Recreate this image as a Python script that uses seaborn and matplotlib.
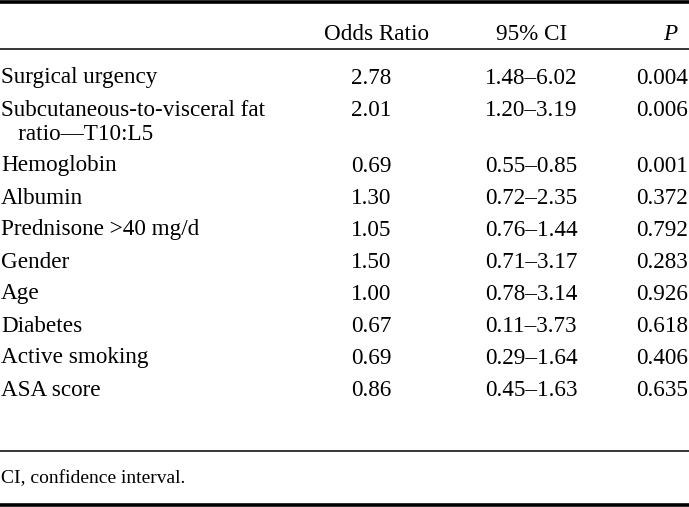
import matplotlib
matplotlib.use("Agg")
import matplotlib.pyplot as plt
import seaborn as sns

# table content
variables = ["Surgical urgency",
             "Subcutaneous-to-visceral fat\n   ratio\u2014T10:L5",
             "Hemoglobin", "Albumin", "Prednisone >40 mg/d", "Gender",
             "Age", "Diabetes", "Active smoking", "ASA score"]
odds_ratio = ["2.78", "2.01", "0.69", "1.30", "1.05", "1.50", "1.00", "0.67", "0.69", "0.86"]
ci_95 = ["1.48\u20136.02", "1.20\u20133.19", "0.55\u20130.85", "0.72\u20132.35", "0.76\u20131.44",
         "0.71\u20133.17", "0.78\u20133.14", "0.11\u20133.73", "0.29\u20131.64", "0.45\u20131.63"]
p_values = ["0.004", "0.006", "0.001", "0.372", "0.792", "0.283", "0.926", "0.618", "0.406", "0.635"]
headers = ["Odds Ratio", "95% CI", "P"]
footnote = "CI, confidence interval."

sns.set_theme(style="white")
plt.rcParams["font.family"] = ["Liberation Serif", "DejaVu Serif"]
plt.rcParams["text.color"] = "black"

W, H = 689, 507
fig = plt.figure(figsize=(W / 100, H / 100), dpi=100)
ax = fig.add_axes([0, 0, 1, 1])
ax.set_xlim(0, W)
ax.set_ylim(H, 0)
ax.axis("off")

fs = 16.7
x_label, x_or, x_ci, x_p = 1, 371, 531, 688
base = 7.5  # baseline offset below row centre

# horizontal rules
ax.axhline(1.8, color="black", lw=2.6)
ax.axhline(48.5, color="black", lw=1.1)
ax.axhline(450.5, color="black", lw=1.1)
ax.axhline(505.2, color="black", lw=2.6)

# header row
hy = 33 + base
ax.text(377, hy, headers[0], ha="center", va="baseline", fontsize=fs)
ax.text(532, hy, headers[1], ha="center", va="baseline", fontsize=fs)
ax.text(677, hy, headers[2], ha="right", va="baseline", fontsize=fs, style="italic")

# body rows
y = 76
for i, name in enumerate(variables):
    lines = name.split("\n")
    yb = y + base
    for k, line in enumerate(lines):
        ax.text(x_label, yb + 25 * k, line, ha="left", va="baseline", fontsize=fs)
    ax.text(x_or, yb, odds_ratio[i], ha="center", va="baseline", fontsize=fs)
    ax.text(x_ci, yb, ci_95[i], ha="center", va="baseline", fontsize=fs)
    ax.text(x_p, yb, p_values[i], ha="right", va="baseline", fontsize=fs)
    y += 56 if len(lines) > 1 else 32

ax.text(1, 477 + 6.5, footnote, ha="left", va="baseline", fontsize=14)

fig.savefig("out.png", dpi=100)
